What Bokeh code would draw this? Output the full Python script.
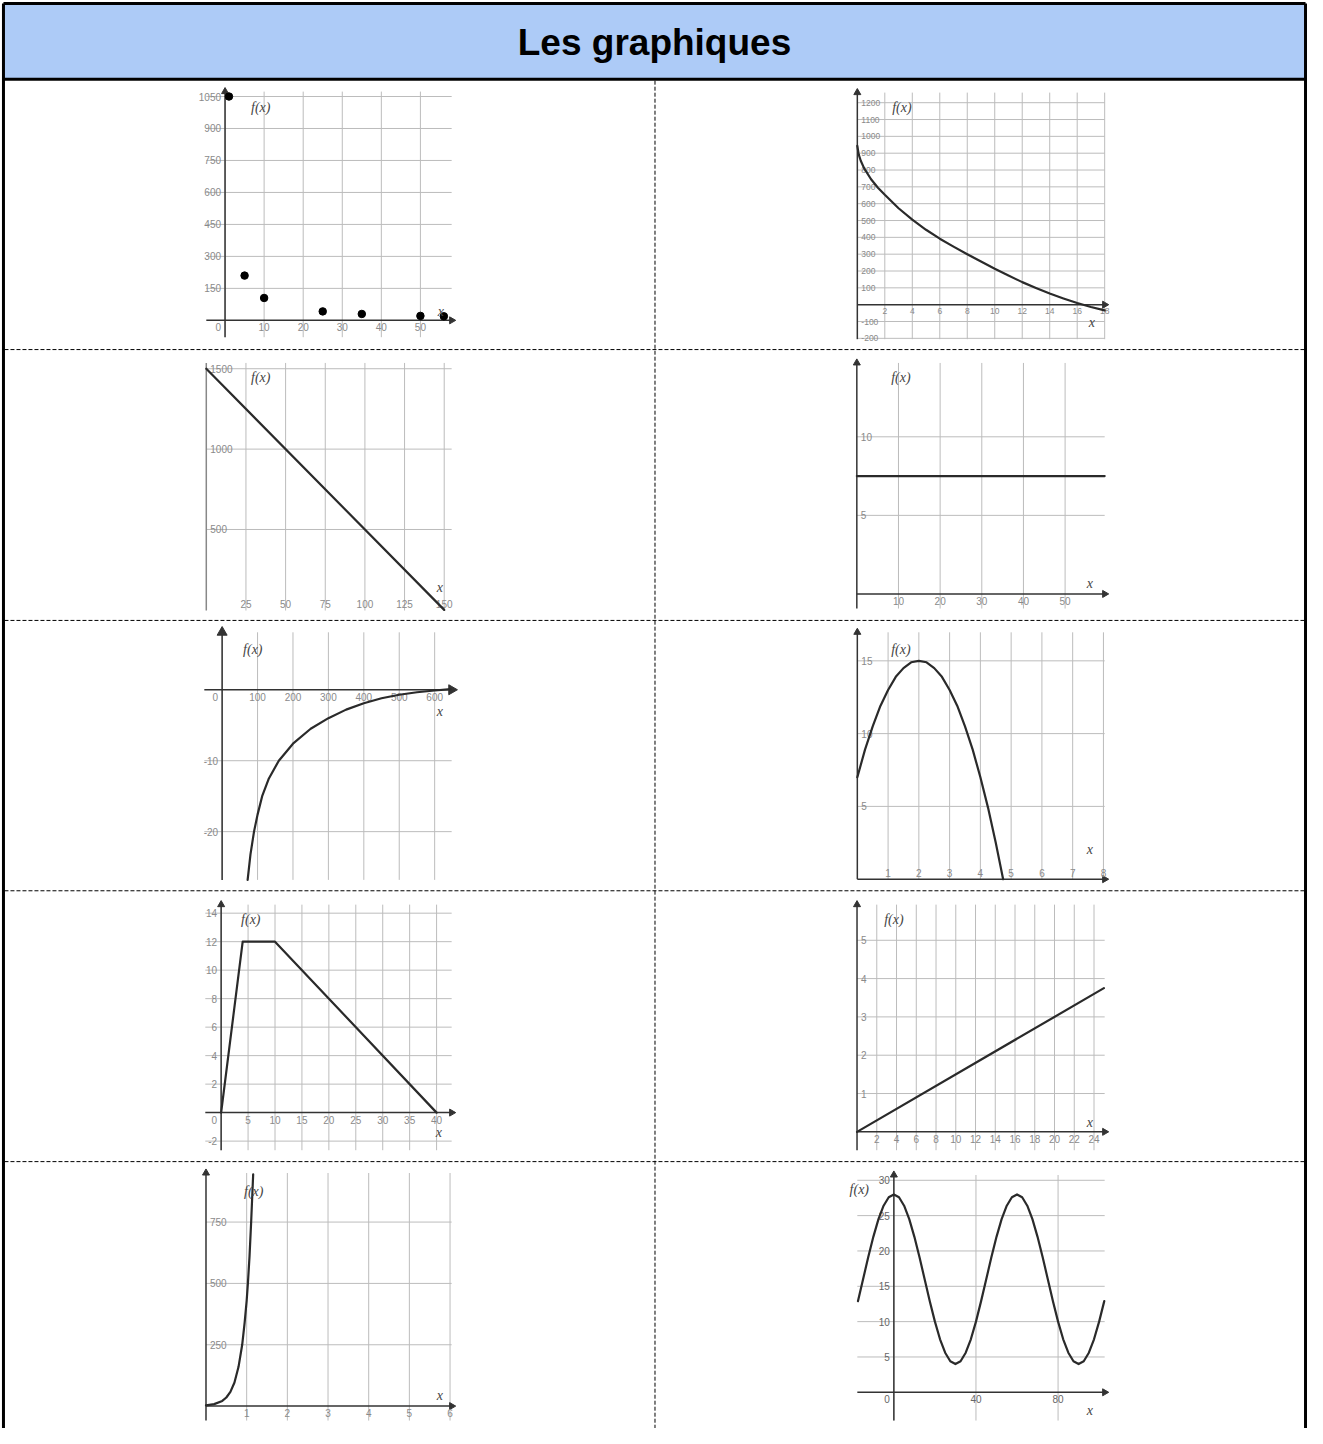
import math
from bokeh.plotting import figure
from bokeh.models import Range1d
from bokeh.core.properties import value
from bokeh.embed import file_html
from bokeh.resources import INLINE

TITLE = "Les graphiques"
YLABEL = "f(x)"
XLABEL = "x"

# ---------------- data ----------------
g1_x = [1, 5, 10, 25, 35, 50, 56]
g1_y = [1050, 210, 105, 42, 30, 21, 19]
g1_xticks = [0, 10, 20, 30, 40, 50]
g1_yticks = [150, 300, 450, 600, 750, 900, 1050]

g2_x = [0, 0.1, 0.25, 0.5, 1, 1.5, 2, 3, 4, 5, 6, 7, 8, 9, 10, 11, 12, 13, 14, 15, 16, 17, 18]
g2_y = [943, 893, 855, 810, 745, 695, 653, 573, 505, 445, 392, 345, 300, 256, 213, 173, 134, 99, 66, 37, 10, -14, -34]
g2_xticks = [2, 4, 6, 8, 10, 12, 14, 16, 18]
g2_yticks = [-200, -100, 100, 200, 300, 400, 500, 600, 700, 800, 900, 1000, 1100, 1200]

g3_x = [0, 150]
g3_y = [1500, 0]
g3_xticks = [25, 50, 75, 100, 125, 150]
g3_yticks = [500, 1000, 1500]

g4_x = [0, 59.5]
g4_y = [7.5, 7.5]
g4_xticks = [10, 20, 30, 40, 50]
g4_yticks = [5, 10]

g5_x = [72, 80, 90, 100, 113, 132, 160, 200, 250, 300, 350, 400, 450, 500, 550, 600, 645]
g5_y = [-26.8, -23.2, -20, -17.6, -15.0, -12.5, -10.0, -7.6, -5.5, -4.0, -2.8, -1.9, -1.2, -0.7, -0.35, -0.1, 0.1]
g5_xticks = [0, 100, 200, 300, 400, 500, 600]
g5_yticks = [-20, -10]

g6_x = [0, 0.25, 0.5, 0.75, 1, 1.25, 1.5, 1.75, 2, 2.25, 2.5, 2.75, 3, 3.25, 3.5, 3.75, 4, 4.25, 4.5, 4.74]
g6_y = [7, 8.9, 10.5, 11.9, 13, 13.9, 14.5, 14.9, 15, 14.9, 14.5, 13.9, 13, 11.9, 10.5, 8.9, 7, 4.9, 2.5, 0]
g6_xticks = [1, 2, 3, 4, 5, 6, 7, 8]
g6_yticks = [5, 10, 15]

g7_x = [0, 4, 10, 40]
g7_y = [0, 12, 12, 0]
g7_xticks = [0, 5, 10, 15, 20, 25, 30, 35, 40]
g7_yticks = [-2, 2, 4, 6, 8, 10, 12, 14]

g8_x = [0, 25]
g8_y = [0, 3.75]
g8_xticks = [2, 4, 6, 8, 10, 12, 14, 16, 18, 20, 22, 24]
g8_yticks = [1, 2, 3, 4, 5]

g9_x = [0, 0.2, 0.4, 0.5, 0.6, 0.7, 0.8, 0.89, 0.95, 1.0, 1.03, 1.07, 1.11, 1.16]
g9_y = [3, 8, 21, 35, 58, 96, 160, 250, 340, 430, 500, 610, 750, 945]
g9_xticks = [1, 2, 3, 4, 5, 6]
g9_yticks = [250, 500, 750]

g10_x = [-17.5, -15, -12.5, -10, -7.5, -5, -2.5, 0, 2.5, 5, 7.5, 10, 12.5, 15, 17.5, 20,
         22.5, 25, 27.5, 30, 32.5, 35, 37.5, 40, 42.5, 45, 47.5, 50, 52.5, 55, 57.5, 60,
         62.5, 65, 67.5, 70, 72.5, 75, 77.5, 80, 82.5, 85, 87.5, 90, 92.5, 95, 97.5, 100, 102.5]
g10_y = [12.9, 16, 19.1, 22, 24.5, 26.4, 27.6, 28, 27.6, 26.4, 24.5, 22, 19.1, 16, 12.9, 10,
         7.5, 5.6, 4.4, 4, 4.4, 5.6, 7.5, 10, 12.9, 16, 19.1, 22, 24.5, 26.4, 27.6, 28,
         27.6, 26.4, 24.5, 22, 19.1, 16, 12.9, 10, 7.5, 5.6, 4.4, 4, 4.4, 5.6, 7.5, 10, 12.9]
g10_xticks = [0, 40, 80]
g10_yticks = [5, 10, 15, 20, 25, 30]

# ---------------- styling / layout ----------------
SANS = "Liberation Sans"
SERIF = "Liberation Serif"
GRID = "#bcbcbc"
AXIS = "#333333"
CURVE = "#2a2a2a"
TICK = "#8a8a8a"
HEADER = "#ADCBF7"

FX0, FX1 = 2.0, 1323.0   # page area in reference pixel units
FY0, FY1 = 2.0, 1444.0
W, H = 1307, 1428

p = figure(width=W, height=H, x_range=Range1d(FX0, FX1), y_range=Range1d(FY1, FY0),
           output_backend="svg", toolbar_location=None, min_border=0,
           x_axis_location=None, y_axis_location=None)
p.outline_line_color = None
p.xgrid.visible = False
p.ygrid.visible = False
p.background_fill_color = "white"
p.border_fill_color = "white"

xr_extra, yr_extra = {}, {}


def fmt(t):
    return str(int(t)) if float(t).is_integer() else str(t)


def panel(key, box, xr, yr, xt, yt, xlab="below", ylab="left", xaxis=True, yaxis=True,
          ax_color=AXIS, arrow=7, fs="10px", tcol=TICK):
    L, R, T, B = box
    x0, x1 = xr
    y0, y1 = yr
    sx = (x1 - x0) / (R - L)
    sy = (y1 - y0) / (B - T)
    xn, yn = key + "_x", key + "_y"
    xr_extra[xn] = Range1d(x0 - (L - FX0) * sx, x1 + (FX1 - R) * sx)
    yr_extra[yn] = Range1d(y0 - (FY1 - B) * sy, y1 + (T - FY0) * sy)
    kw = dict(x_range_name=xn, y_range_name=yn)
    # grid
    p.segment(x0=xt, y0=[y0] * len(xt), x1=xt, y1=[y1] * len(xt), line_color=GRID, line_width=1, **kw)
    p.segment(x0=[x0] * len(yt), y0=yt, x1=[x1] * len(yt), y1=yt, line_color=GRID, line_width=1, **kw)
    # axes
    if yaxis:
        p.segment(x0=[0], y0=[y0], x1=[0], y1=[y1], line_color=ax_color, line_width=1.5, **kw)
        if arrow:
            p.scatter(x=[0], y=[y1], marker="triangle", size=arrow, angle=0,
                      fill_color=ax_color, line_color=ax_color, **kw)
    if xaxis:
        p.segment(x0=[x0], y0=[0], x1=[x1], y1=[0], line_color=ax_color, line_width=1.5, **kw)
        if arrow:
            p.scatter(x=[x1], y=[0], marker="triangle", size=arrow, angle=-math.pi / 2,
                      fill_color=ax_color, line_color=ax_color, **kw)
    tk = dict(text_font=value(SANS), text_font_size=fs, text_color=tcol, **kw)
    nz = [t for t in xt if t != 0]
    if xlab == "below":
        p.text(x=nz, y=[0] * len(nz), text=[fmt(t) for t in nz], text_align="center",
               text_baseline="top", y_offset=3, **tk)
    else:
        p.text(x=nz, y=[0] * len(nz), text=[fmt(t) for t in nz], text_align="center",
               text_baseline="bottom", y_offset=-2, **tk)
    if 0 in xt:
        p.text(x=[0], y=[0], text=["0"], text_align="right", text_baseline="top",
               x_offset=-4, y_offset=3, **tk)
    if ylab == "left":
        p.text(x=[0] * len(yt), y=yt, text=[fmt(t) for t in yt], text_align="right",
               text_baseline="middle", x_offset=-4, **tk)
    else:
        p.text(x=[0] * len(yt), y=yt, text=[fmt(t) for t in yt], text_align="left",
               text_baseline="middle", x_offset=4, **tk)
    return kw


line_kw = dict(line_color=CURVE, line_width=2.2, line_join="round", line_cap="round")

k1 = panel("g1", (210, 458, 94, 342), (-4.8, 58), (-79, 1073), g1_xticks, g1_yticks, "below", "left")
k2 = panel("g2", (868, 1118, 95, 344), (0, 18), (-205, 1260), g2_xticks, g2_yticks, "below", "right", fs="8.5px")
k3 = panel("g3", (210, 458, 368, 618), (0, 154.7), (-4, 1536), g3_xticks, g3_yticks, "above", "right",
           xaxis=False, ax_color="#888888", arrow=0)
k4 = panel("g4", (867.5, 1118, 368, 616), (0, 59.5), (-0.93, 14.7), g4_xticks, g4_yticks, "below", "right")
k5 = panel("g5", (208, 458, 640, 890), (-50.3, 648), (-26.8, 8.1), g5_xticks, g5_yticks, "below", "left", arrow=10)
k6 = panel("g6", (868, 1118, 640, 889.3), (0, 8.04), (0, 16.96), g6_xticks, g6_yticks, "above", "right")
k7 = panel("g7", (209, 458, 915, 1163), (-2.94, 42.8), (-2.64, 14.6), g7_xticks, g7_yticks, "below", "left")
k8 = panel("g8", (867.7, 1118, 915, 1163), (0, 25.08), (-0.48, 5.93), g8_xticks, g8_yticks, "below", "right")
k9 = panel("g9", (209.7, 458, 1186, 1436), (0, 6.04), (-59, 950), g9_xticks, g9_yticks, "below", "right")
k10 = panel("g10", (868, 1118, 1188, 1436), (-17.8, 102.7), (-4.0, 30.75), g10_xticks, g10_yticks,
            "below", "left", tcol="#666666")

p.extra_x_ranges = xr_extra
p.extra_y_ranges = yr_extra

# curves / points
p.scatter(g1_x, g1_y, size=7.5, color="black", **k1)
p.line(g2_x, g2_y, **line_kw, **k2)
p.line(g3_x, g3_y, **line_kw, **k3)
p.line(g4_x, g4_y, **line_kw, **k4)
p.line(g5_x, g5_y, **line_kw, **k5)
p.line(g6_x, g6_y, **line_kw, **k6)
p.line(g7_x, g7_y, **line_kw, **k7)
p.line(g8_x, g8_y, **line_kw, **k8)
p.line(g9_x, g9_y, **line_kw, **k9)
p.line(g10_x, g10_y, **line_kw, **k10)

# f(x) and x labels (layout positions)
fx_pos_x = [265, 913, 265, 912, 257, 912, 255, 905, 258, 870]
fx_pos_y = [110, 110, 383, 383, 657, 657, 930, 930, 1205, 1203]
x_pos_x = [447, 1105, 446, 1103, 446, 1103, 445, 1103, 446, 1103]
x_pos_y = [316, 327, 595, 591, 720, 859, 1145, 1135, 1411, 1426]
lab_kw = dict(text_font=value(SERIF), text_font_style="italic", text_font_size="14px",
              text_color="#444444", text_align="center", text_baseline="middle")
p.text(x=fx_pos_x, y=fx_pos_y, text=[YLABEL] * 10, **lab_kw)
p.text(x=x_pos_x, y=x_pos_y, text=[XLABEL] * 10, **lab_kw)

# table frame
p.quad(left=[5], right=[1321], top=[5], bottom=[81], fill_color=HEADER, line_color=None)
p.text(x=[663], y=[44], text=[TITLE], text_font=value(SANS), text_font_style="bold",
       text_font_size="37px", text_color="black", text_align="center", text_baseline="middle")
p.segment(x0=[5, 5, 1321, 5], y0=[5, 5, 5, 81.5], x1=[1321, 5, 1321, 1321], y1=[5, 1444, 1444, 81.5],
          line_color="black", line_width=3)
row_lines = [354.5, 628, 901, 1174.5]
p.segment(x0=[6] * 4, y0=row_lines, x1=[1320] * 4, y1=row_lines, line_color="black",
          line_width=1, line_dash="4 2")
p.segment(x0=[663.5], y0=[83], x1=[663.5], y1=[1444], line_color="black", line_width=1, line_dash="4 2")

open("out.html", "w").write(file_html(p, INLINE))
